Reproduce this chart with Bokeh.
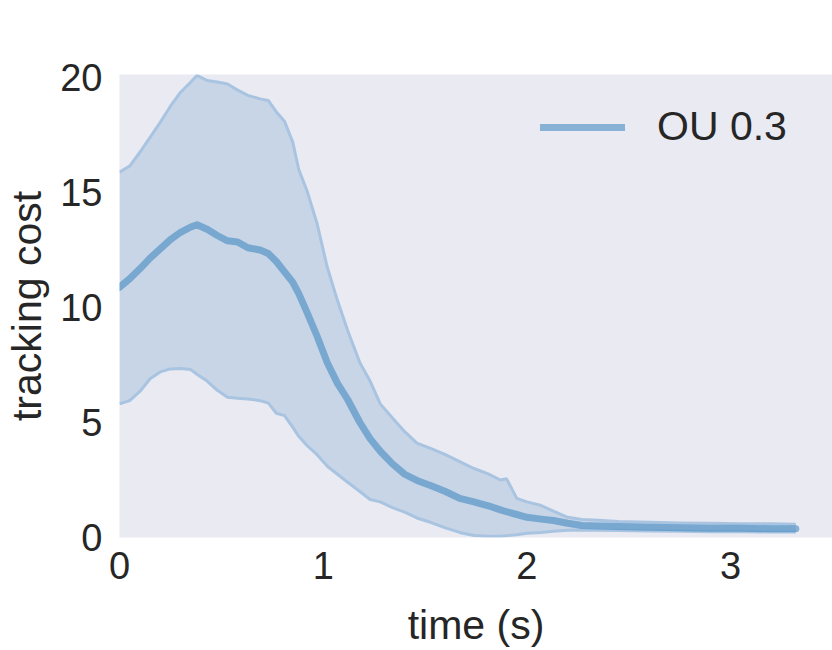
from bokeh.plotting import figure
from bokeh.models import Range1d, FixedTicker, Legend, LegendItem
from bokeh.embed import file_html
from bokeh.resources import INLINE

# ---- data ----
time_s = [0.00, 0.05, 0.10, 0.15, 0.20, 0.25, 0.30, 0.35, 0.38, 0.43, 0.48, 0.53,
          0.58, 0.63, 0.69, 0.73, 0.77, 0.81, 0.85, 0.88, 0.92, 0.97, 1.02, 1.07,
          1.12, 1.18, 1.23, 1.28, 1.34, 1.40, 1.46, 1.53, 1.60, 1.67, 1.74, 1.81,
          1.87, 1.90, 1.95, 2.00, 2.07, 2.13, 2.20, 2.27, 2.35, 2.45, 2.60, 2.75,
          2.90, 3.05, 3.20, 3.32]
mean_cost = [10.88, 11.25, 11.68, 12.15, 12.55, 12.95, 13.27, 13.50, 13.60, 13.40, 13.13, 12.90,
             12.85, 12.60, 12.50, 12.35, 12.00, 11.55, 11.10, 10.60, 9.80, 8.75, 7.60, 6.70,
             6.00, 5.00, 4.30, 3.75, 3.20, 2.75, 2.48, 2.25, 2.00, 1.70, 1.55, 1.38,
             1.20, 1.12, 1.00, 0.88, 0.80, 0.74, 0.62, 0.52, 0.50, 0.48, 0.45, 0.42,
             0.40, 0.40, 0.38, 0.38]
upper_cost = [15.88, 16.15, 16.75, 17.40, 18.05, 18.75, 19.36, 19.80, 20.09, 19.87, 19.80, 19.72,
              19.45, 19.22, 19.07, 19.00, 18.50, 18.10, 17.20, 16.00, 15.09, 13.64, 11.75, 10.30,
              9.00, 7.60, 6.80, 5.81, 5.20, 4.60, 4.10, 3.86, 3.60, 3.30, 3.00, 2.77,
              2.50, 2.55, 1.70, 1.55, 1.39, 1.15, 0.88, 0.78, 0.75, 0.70, 0.66, 0.63,
              0.62, 0.60, 0.60, 0.58]
lower_cost = [5.81, 5.95, 6.35, 6.90, 7.20, 7.33, 7.35, 7.30, 7.10, 6.80, 6.40, 6.10,
              6.05, 6.02, 5.95, 5.85, 5.40, 5.30, 4.80, 4.40, 4.00, 3.60, 3.10, 2.75,
              2.40, 2.00, 1.65, 1.55, 1.30, 1.10, 0.85, 0.65, 0.42, 0.22, 0.09, 0.05,
              0.05, 0.08, 0.12, 0.18, 0.22, 0.27, 0.32, 0.33, 0.32, 0.30, 0.28, 0.27,
              0.25, 0.25, 0.24, 0.24]
series_label = "OU 0.3"
x_ticks = [0, 1, 2, 3]
y_ticks = [0, 5, 10, 15, 20]

TEXT = "#262626"
FONT = "Liberation Sans"

p = figure(width=832, height=650, frame_width=713, frame_height=463,
           x_range=Range1d(0, 3.5), y_range=Range1d(0, 20.13),
           output_backend="svg", toolbar_location=None,
           min_border_left=119, min_border_right=0, min_border_top=74, min_border_bottom=113)

p.background_fill_color = "#EAEAF2"
p.border_fill_color = "white"
p.outline_line_color = None
p.xgrid.visible = False
p.ygrid.visible = False

p.varea(x=time_s, y1=lower_cost, y2=upper_cost, fill_color="#C8D5E7", fill_alpha=1.0)
p.line(time_s, upper_cost, line_color="#A9C4E1", line_width=3, line_join="round")
p.line(time_s, lower_cost, line_color="#A9C4E1", line_width=3, line_join="round")
mean_r = p.line(time_s, mean_cost, line_color="#3783BD", line_alpha=0.55, line_width=7,
                line_cap="round", line_join="round")

legend = Legend(items=[LegendItem(label=series_label, renderers=[mean_r])],
                location=(421, 387), padding=0, margin=0, spacing=0,
                glyph_width=85, glyph_height=40, label_height=40, label_standoff=32,
                label_text_font=FONT, label_text_font_size="41px",
                label_text_color=TEXT, background_fill_alpha=0,
                border_line_alpha=0)
p.add_layout(legend)

for ax in (p.xaxis, p.yaxis):
    ax.axis_line_color = None
    ax.major_tick_line_color = None
    ax.minor_tick_line_color = None
    ax.major_tick_out = 0
    ax.major_tick_in = 0
    ax.major_label_text_font = FONT
    ax.major_label_text_font_size = "38px"
    ax.major_label_text_color = TEXT
    ax.axis_label_text_font = FONT
    ax.axis_label_text_font_size = "41px"
    ax.axis_label_text_color = TEXT
    ax.axis_label_text_font_style = "normal"

p.xaxis.ticker = FixedTicker(ticks=x_ticks)
p.yaxis.ticker = FixedTicker(ticks=y_ticks)
p.xaxis.axis_label = "time (s)"
p.yaxis.axis_label = "tracking cost"
p.xaxis.major_label_standoff = 14
p.yaxis.major_label_standoff = 17
p.xaxis.axis_label_standoff = 20
p.yaxis.axis_label_standoff = 7

open("out.html", "w").write(file_html(p, INLINE))
